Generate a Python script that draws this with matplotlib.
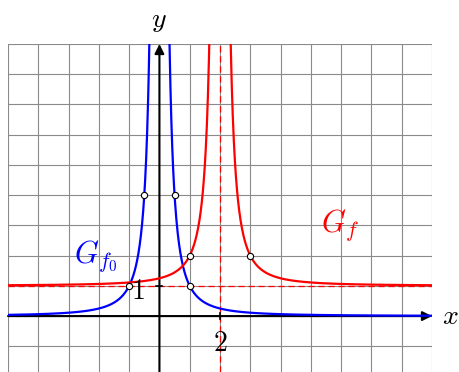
import numpy as np
import matplotlib
matplotlib.use("Agg")
import matplotlib.pyplot as plt

plt.rcParams['mathtext.fontset'] = 'cm'
plt.rcParams['font.family'] = 'serif'

# window of the grid
x_range = [-5, 9]
y_range = [-1.85, 9]

# marked points on the graphs
f0_pts_x = [-1, -0.5, 0.5, 1]
f0_pts_y = [1, 4, 4, 1]
f_pts_x = [1, 3]
f_pts_y = [2, 2]

# asymptotes of G_f
asym_x = 2
asym_y = 1


def f0(x):
    return 1 / x**2


def f(x):
    return 1 / (x - 2)**2 + 1


fig = plt.figure(figsize=(4.59, 3.72), dpi=100)
ax = fig.add_axes([8 / 459, 0, 424 / 459, 328 / 372])
ax.set_xlim(x_range)
ax.set_ylim(y_range)

# grid
for gx in range(-5, 10):
    ax.axvline(gx, color='#8a8a8a', lw=0.8, zorder=0)
for gy in range(-2, 10):
    ax.axhline(gy, color='#8a8a8a', lw=0.8, zorder=0)

for s in ax.spines.values():
    s.set_visible(False)
ax.set_xticks([])
ax.set_yticks([])

# asymptotes
ax.axvline(asym_x, color='red', lw=0.9, ls=(0, (5, 3)), zorder=1)
ax.axhline(asym_y, color='red', lw=0.9, ls=(0, (5, 3)), zorder=1)

# axes arrows
ax.annotate('', xy=(9, 0), xytext=(-5, 0),
            arrowprops=dict(arrowstyle='-|>', color='black', lw=1.5,
                            mutation_scale=14, shrinkA=0, shrinkB=0), zorder=3)
ax.annotate('', xy=(0, 9), xytext=(0, -1.85),
            arrowprops=dict(arrowstyle='-|>', color='black', lw=1.5,
                            mutation_scale=14, shrinkA=0, shrinkB=0), zorder=3)

# small ticks
ax.plot([2, 2], [-0.1, 0.1], color='black', lw=1.2, zorder=3)
ax.plot([-0.1, 0.1], [1, 1], color='black', lw=1.2, zorder=3)

# curves
xl = np.linspace(-5, -0.05, 600)
xr = np.linspace(0.05, 9, 600)
ax.plot(xl, f0(xl), color='blue', lw=1.6, zorder=4)
ax.plot(xr, f0(xr), color='blue', lw=1.6, zorder=4)
xl2 = np.linspace(-5, 1.95, 600)
xr2 = np.linspace(2.05, 9, 600)
ax.plot(xl2, f(xl2), color='red', lw=1.6, zorder=4)
ax.plot(xr2, f(xr2), color='red', lw=1.6, zorder=4)

# marked points
ax.plot(f0_pts_x, f0_pts_y, 'o', ms=4.5, mfc='white', mec='black', mew=0.8, zorder=5)
ax.plot(f_pts_x, f_pts_y, 'o', ms=4.5, mfc='white', mec='black', mew=0.8, zorder=5)

# labels
ax.text(-0.72, 0.82, '$1$', fontsize=20, ha='center', va='center', zorder=6)
ax.text(2, -0.9, '$2$', fontsize=20, ha='center', va='center', zorder=6)
ax.text(-2.1, 2.0, '$G_{f_0}$', color='blue', fontsize=22, ha='center', va='center')
ax.text(5.95, 3.0, '$G_f$', color='red', fontsize=22, ha='center', va='center')

fig.text(450 / 459, 1 - 316 / 372, '$x$', fontsize=20, ha='center', va='center')
fig.text(159 / 459, 1 - 20 / 372, '$y$', fontsize=20, ha='center', va='center')

fig.savefig('out.png', dpi=100)
